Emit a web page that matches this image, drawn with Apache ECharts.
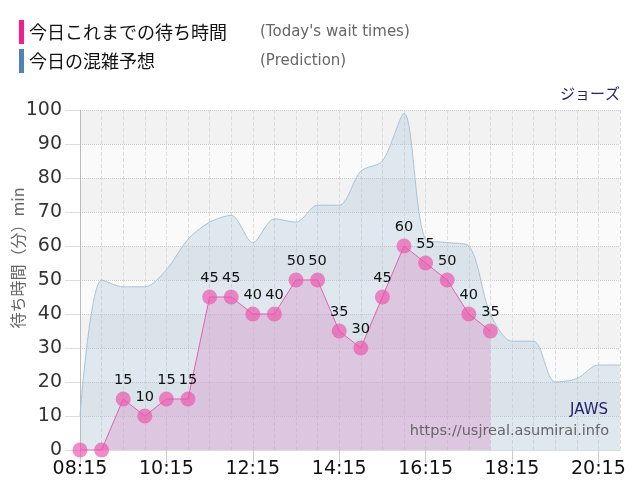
<!DOCTYPE html>
<html>
<head>
<meta charset="utf-8">
<script src="https://cdn.jsdelivr.net/npm/echarts@6/dist/echarts.min.js"></script>
<style>html,body{margin:0;padding:0;background:#fff;}#c{width:640px;height:500px;}</style>
</head>
<body>
<div id="c"></div>
<script>
var times = ['08:15','08:45','09:15','09:45','10:15','10:45','11:15','11:45','12:15','12:45','13:15','13:45','14:15','14:45','15:15','15:45','16:15','16:45','17:15','17:45','18:15','18:45','19:15','19:45','20:15','20:45'];
var prediction = [10,50,48,48,53,62,67,69,61,68,67,72,72,82,85,99,62,61,60,40,32,32,20,21,25,25];
var actual = [0,0,15,10,15,15,45,45,40,40,50,50,35,30,45,60,55,50,40,35,null,null,null,null,null,null];
var yTicks = [0,10,20,30,40,50,60,70,80,90,100];

var nameActual = '今日これまでの待ち時間';
var namePred = '今日の混雑予想';
var engActual = "(Today's wait times)";
var engPred = '(Prediction)';

var chart = echarts.init(document.getElementById('c'));
var jp = '"Noto Sans CJK JP", "DejaVu Sans", sans-serif';
var num = '"DejaVu Sans", sans-serif';

chart.setOption({
  animation: false,
  backgroundColor: '#fff',
  legend: {
    orient: 'vertical',
    left: 14, top: 15,
    icon: 'rect',
    itemWidth: 5, itemHeight: 24, itemGap: 5,
    selectedMode: false,
    data: [
      {name: nameActual, itemStyle: {color: '#f41d8f'}},
      {name: namePred, itemStyle: {color: '#4f83b4'}}
    ],
    formatter: function (n) {
      return '{a|' + n + '}{b|' + (n === nameActual ? engActual : engPred) + '}';
    },
    textStyle: {
      rich: {
        a: {fontFamily: jp, fontSize: 18, color: '#111', width: 231},
        b: {fontFamily: num, fontSize: 15, color: '#666'}
      }
    }
  },
  grid: {left: 80, right: 20, top: 110, bottom: 50},
  xAxis: {
    type: 'category',
    data: times,
    boundaryGap: false,
    axisLine: {show: true, lineStyle: {color: '#ddd'}},
    axisTick: {show: true, interval: 3, length: 13, lineStyle: {color: '#ccc'}},
    axisLabel: {interval: 3, fontFamily: num, fontSize: 19, color: '#111', margin: 10},
    splitLine: {show: true, interval: 0, lineStyle: {color: '#ddd', type: 'dashed'}}
  },
  yAxis: {
    type: 'value',
    min: 0, max: 100, interval: 10,
    axisLine: {show: true, lineStyle: {color: '#bbb'}},
    axisTick: {show: true, length: 15, lineStyle: {color: '#ddd'}},
    axisLabel: {fontFamily: num, fontSize: 19, color: '#333', margin: 18},
    splitLine: {show: true, lineStyle: {color: '#ccc', type: 'dotted'}},
    splitArea: {show: true, areaStyle: {color: ['#fafafa', '#f2f2f2']}}
  },
  graphic: [
    {type: 'text', x: 18, y: 258, rotation: Math.PI / 2,
     style: {text: '待ち時間（分）min', fontFamily: jp, fontSize: 16, fill: '#666', textAlign: 'center', textVerticalAlign: 'middle'}},
    {type: 'text', x: 620, y: 93,
     style: {text: 'ジョーズ', fontFamily: jp, fontSize: 15, fill: '#22226e', textAlign: 'right', textVerticalAlign: 'middle'}},
    {type: 'text', x: 608, y: 410, z: 100,
     style: {text: 'JAWS', fontFamily: num, fontSize: 15, fill: '#22226e', textAlign: 'right', textVerticalAlign: 'middle'}},
    {type: 'text', x: 609, y: 431, z: 100,
     style: {text: 'https://usjreal.asumirai.info', fontFamily: num, fontSize: 14.5, fill: '#666', textAlign: 'right', textVerticalAlign: 'middle'}}
  ],
  series: [
    {
      name: namePred,
      type: 'line',
      data: prediction,
      smooth: 0.3,
      symbol: 'none',
      lineStyle: {color: '#a9c3d7', width: 1},
      itemStyle: {color: '#a9c3d7'},
      areaStyle: {color: 'rgba(160,190,212,0.42)'},
      z: 2
    },
    {
      name: nameActual,
      type: 'line',
      data: actual,
      connectNulls: false,
      showAllSymbol: true,
      symbol: 'circle',
      symbolSize: 15,
      lineStyle: {color: '#e65fae', width: 1},
      itemStyle: {color: 'rgba(236,84,172,0.68)'},
      areaStyle: {color: 'rgba(220,150,205,0.6)'},
      label: {
        show: true, position: 'top', distance: 4,
        fontFamily: num, fontSize: 14.5, color: '#111',
        formatter: function (p) { return p.value > 0 ? String(p.value) : ''; }
      },
      labelLayout: {hideOverlap: false},
      z: 3
    }
  ]
});
</script>
</body>
</html>
